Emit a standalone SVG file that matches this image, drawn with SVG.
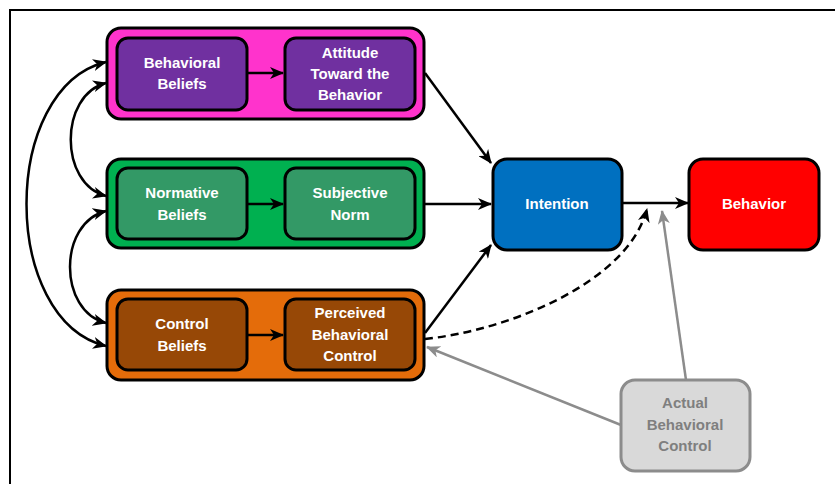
<svg xmlns="http://www.w3.org/2000/svg" width="835" height="484" viewBox="0 0 835 484">
<style>
.box{stroke:#000;stroke-width:3}
.t{font-family:"Liberation Sans",Arial,sans-serif;font-weight:bold;font-size:15px;fill:#fff;text-anchor:middle}
.tg{font-family:"Liberation Sans",Arial,sans-serif;font-weight:bold;font-size:15px;fill:#7f7f7f;text-anchor:middle}
.c{fill:none;stroke:#000;stroke-width:2.5}
.g{fill:none;stroke:#8c8c8c;stroke-width:2.5}
</style>
<defs>
<marker id="ab" viewBox="0 0 14 12" refX="13" refY="6" markerWidth="14" markerHeight="12" markerUnits="userSpaceOnUse" orient="auto-start-reverse">
<path d="M0,0 L14,6 L0,12 L4,6 z" fill="#000"/>
</marker>
<marker id="ag" viewBox="0 0 14 12" refX="13" refY="6" markerWidth="14" markerHeight="12" markerUnits="userSpaceOnUse" orient="auto">
<path d="M0,0 L14,6 L0,12 L4,6 z" fill="#8c8c8c"/>
</marker>
</defs>
<rect width="835" height="484" fill="#fff"/>
<path d="M10,484 V10 H835" fill="none" stroke="#000" stroke-width="2"/>

<g id="attitude-group">
<rect class="box" x="107" y="28" width="317" height="91" rx="14" fill="#ff33cc"/>
</g>
<g id="behavioral-beliefs">
<rect class="box" x="117" y="38" width="130" height="72" rx="11" fill="#7030a0"/>
<text class="t" x="182" y="68">Behavioral</text>
<text class="t" x="182" y="89">Beliefs</text>
</g>
<g id="attitude">
<rect class="box" x="285" y="38" width="130" height="72" rx="11" fill="#7030a0"/>
<text class="t" x="350" y="58">Attitude</text>
<text class="t" x="350" y="79">Toward the</text>
<text class="t" x="350" y="100">Behavior</text>
</g>

<g id="norm-group">
<rect class="box" x="107" y="159" width="317" height="89" rx="14" fill="#00b050"/>
</g>
<g id="normative-beliefs">
<rect class="box" x="117" y="168" width="130" height="71" rx="11" fill="#339966"/>
<text class="t" x="182" y="198">Normative</text>
<text class="t" x="182" y="220">Beliefs</text>
</g>
<g id="subjective-norm">
<rect class="box" x="285" y="168" width="130" height="71" rx="11" fill="#339966"/>
<text class="t" x="350" y="198">Subjective</text>
<text class="t" x="350" y="220">Norm</text>
</g>

<g id="control-group">
<rect class="box" x="107" y="290" width="317" height="90" rx="14" fill="#e46c0a"/>
</g>
<g id="control-beliefs">
<rect class="box" x="117" y="299" width="130" height="71" rx="11" fill="#974806"/>
<text class="t" x="182" y="329">Control</text>
<text class="t" x="182" y="351">Beliefs</text>
</g>
<g id="pbc">
<rect class="box" x="285" y="299" width="130" height="71" rx="11" fill="#974806"/>
<text class="t" x="350" y="318">Perceived</text>
<text class="t" x="350" y="340">Behavioral</text>
<text class="t" x="350" y="361">Control</text>
</g>

<g id="intention">
<rect class="box" x="493" y="159" width="129" height="91" rx="14" fill="#0070c0"/>
<text class="t" x="557" y="209">Intention</text>
</g>
<g id="behavior">
<rect class="box" x="689" y="159" width="130" height="91" rx="14" fill="#ff0000"/>
<text class="t" x="754" y="209">Behavior</text>
</g>
<g id="actual-control">
<rect x="621" y="380" width="129" height="91" rx="14" fill="#d9d9d9" stroke="#8c8c8c" stroke-width="3"/>
<text class="tg" x="685" y="408">Actual</text>
<text class="tg" x="685" y="430">Behavioral</text>
<text class="tg" x="685" y="451">Control</text>
</g>

<g id="connectors">
<path class="c" d="M248,73 H283" marker-end="url(#ab)"/>
<path class="c" d="M248,204 H283" marker-end="url(#ab)"/>
<path class="c" d="M248,335 H283" marker-end="url(#ab)"/>
<path class="c" d="M425,73 L491,163" marker-end="url(#ab)"/>
<path class="c" d="M425,204 H491" marker-end="url(#ab)"/>
<path class="c" d="M425,333 L491,245" marker-end="url(#ab)"/>
<path class="c" d="M623,203 H688" marker-end="url(#ab)"/>
<path class="c" d="M425,339 C510,330 628,282 647,209" stroke-dasharray="8,5" marker-end="url(#ab)"/>
<path class="g" d="M621,425 L427,347" marker-end="url(#ag)"/>
<path class="g" d="M686,380 L662,211" marker-end="url(#ag)"/>
<path class="c" d="M106,62 C0,88 0,320 106,346" marker-start="url(#ab)" marker-end="url(#ab)"/>
<path class="c" d="M106,83 C59,95 59,184 106,196" marker-start="url(#ab)" marker-end="url(#ab)"/>
<path class="c" d="M106,211 C58,223 58,311 106,323" marker-start="url(#ab)" marker-end="url(#ab)"/>
</g>
</svg>
